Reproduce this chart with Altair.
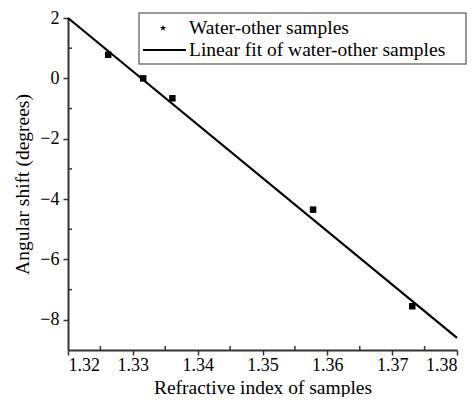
import altair as alt
import pandas as pd

# Data
ri = [1.3262, 1.3316, 1.3361, 1.3578, 1.3731]
shift = [0.78, 0.0, -0.66, -4.35, -7.55]
fit_x = [1.32, 1.38]
fit_y = [2.0, -8.6]
x_major = [1.32, 1.33, 1.34, 1.35, 1.36, 1.37, 1.38]
x_minor = [1.325, 1.335, 1.345, 1.355, 1.365, 1.375]
y_major = [2, 0, -2, -4, -6, -8]
y_minor = [1, -1, -3, -5, -7]
legend_labels = ["Water-other samples", "Linear fit of water-other samples"]

W, H = 389, 332
FONT = "Liberation Serif"
FS = 19.5
LFS = 18

pts = pd.DataFrame({"x": ri, "y": shift})
fit = pd.DataFrame({"x": fit_x, "y": fit_y})

xs = alt.Scale(domain=[1.32, 1.38], nice=False, zero=False)
ys = alt.Scale(domain=[-9, 2], nice=False, zero=False)

axis_common = dict(
    grid=False, domainColor="#333", domainWidth=2, tickColor="#333", tickWidth=1.5,
    tickSize=5, labelFont=FONT, labelFontSize=LFS, labelColor="#000",
    titleFont=FONT, titleFontSize=FS, titleFontWeight="normal", titleColor="#000",
)

xaxis = alt.Axis(values=x_major, format=".2f", title="Refractive index of samples",
                 labelPadding=1, titleY=43, titleBaseline="alphabetic", **axis_common)
yaxis = alt.Axis(values=y_major, format="d", title="Angular shift (degrees)",
                 labelPadding=4, titlePadding=7, **axis_common)

line = alt.Chart(fit).mark_line(color="#000", strokeWidth=2.2, clip=False).encode(
    x=alt.X("x:Q", scale=xs, axis=xaxis),
    y=alt.Y("y:Q", scale=ys, axis=yaxis),
)

points = alt.Chart(pts).mark_point(shape="square", filled=True, color="#000", size=42, opacity=1).encode(
    x=alt.X("x:Q", scale=xs),
    y=alt.Y("y:Q", scale=ys),
)

xmin = alt.Chart(pd.DataFrame({"x": x_minor})).mark_rule(color="#333", strokeWidth=1.5).encode(
    x=alt.X("x:Q", scale=xs), y=alt.value(H - 4), y2=alt.value(H)
)
ymin = alt.Chart(pd.DataFrame({"y": y_minor})).mark_rule(color="#333", strokeWidth=1.5).encode(
    y=alt.Y("y:Q", scale=ys), x=alt.value(0), x2=alt.value(4)
)

# legend box
box = alt.Chart(pd.DataFrame({"a": [0]})).mark_rect(
    fill="white", stroke="#777", strokeWidth=1.5
).encode(x=alt.value(71), x2=alt.value(398), y=alt.value(-5), y2=alt.value(46))

star = alt.Chart(pd.DataFrame({"a": [0]})).mark_point(
    shape="M0,-1L0.2245,-0.309L0.9511,-0.309L0.3633,0.118L0.5878,0.809L0,0.382L-0.5878,0.809L-0.3633,0.118L-0.9511,-0.309L-0.2245,-0.309Z",
    filled=True, color="#000", size=45, opacity=1
).encode(x=alt.value(95), y=alt.value(10))

leg_line = alt.Chart(pd.DataFrame({"a": [0]})).mark_rule(color="#000", strokeWidth=2.2).encode(
    x=alt.value(75), x2=alt.value(118), y=alt.value(32)
)

leg_text = alt.Chart(pd.DataFrame({"t": legend_labels, "yy": [10, 32]})).mark_text(
    align="left", baseline="middle", font=FONT, fontSize=FS, color="#000"
).encode(x=alt.value(121), y=alt.Y("yy:Q", scale=None), text="t:N")

chart = alt.layer(line, points, xmin, ymin, box, star, leg_line, leg_text).properties(
    width=W, height=H,
    autosize=alt.AutoSizeParams(type="none"),
    padding={"left": 60, "top": 10, "right": 11, "bottom": 47},
).configure_view(stroke=None)

chart.save("out.html", embed_options={"renderer": "svg", "actions": False})
